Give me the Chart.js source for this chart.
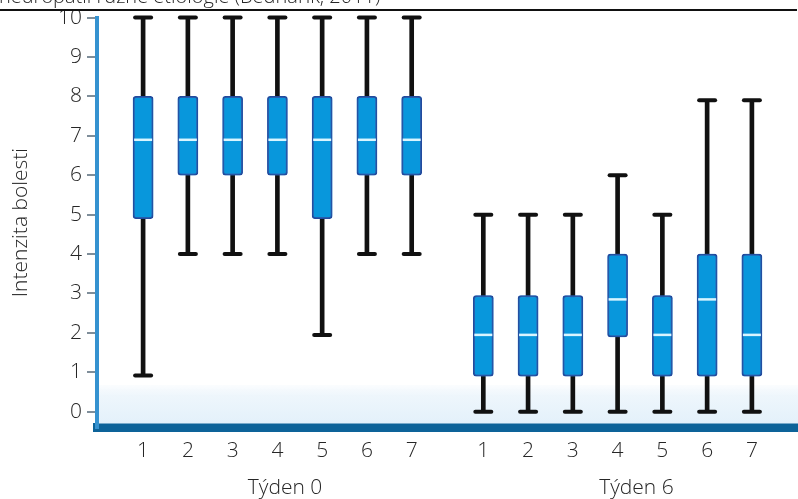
<!DOCTYPE html>
<html lang="cs">
<head>
    <meta charset="UTF-8">
    <title>Intenzita bolesti</title>
    <script src="https://cdn.jsdelivr.net/npm/chart.js@4.4.1/dist/chart.umd.min.js"></script>
    <style>
        html, body { margin: 0; padding: 0; background: #ffffff; }
        #wrap { width: 798px; height: 499px; position: relative; overflow: hidden; }
    </style>
</head>
<body>
<div id="wrap"><canvas id="boxChart" width="798" height="499"></canvas></div>

<script>
    // data
    const groupLabels = ["Týden 0", "Týden 6"];
    const groupLabelPos = [4.17, 12.02];
    const categories = ["1", "2", "3", "4", "5", "6", "7", "1", "2", "3", "4", "5", "6", "7"];
    const positions = [1, 2, 3, 4, 5, 6, 7, 8.6, 9.6, 10.6, 11.6, 12.6, 13.6, 14.6];
    const minValues = [0.92, 4, 4, 4, 1.95, 4, 4, 0, 0, 0, 0, 0, 0, 0];
    const q1Values = [4.9, 6, 6, 6, 4.9, 6, 6, 0.9, 0.9, 0.9, 1.9, 0.9, 0.9, 0.9];
    const medianValues = [6.9, 6.9, 6.9, 6.9, 6.9, 6.9, 6.9, 1.95, 1.95, 1.95, 2.85, 1.95, 2.85, 1.95];
    const q3Values = [8, 8, 8, 8, 8, 8, 8, 2.95, 2.95, 2.95, 4, 2.95, 4, 4];
    const maxValues = [10, 10, 10, 10, 10, 10, 10, 5, 5, 5, 6, 5, 7.9, 7.9];
    const yTicks = [0, 1, 2, 3, 4, 5, 6, 7, 8, 9, 10];
    const topCaption = "neuropatií různé etiologie (Bednarik, 2011)";

    const FONT = "'Open Sans', 'Noto Sans', sans-serif";
    const TEXT = "#262626";

    // caps, medians, floor band, group labels, cut-off caption
    const boxExtras = {
        id: "boxExtras",
        beforeDatasetsDraw(chart) {
            const { ctx, chartArea, scales } = chart;
            const yTop = scales.y.getPixelForValue(0.68);
            const g = ctx.createLinearGradient(0, yTop, 0, chartArea.bottom);
            g.addColorStop(0, "rgba(236,245,252,0.2)");
            g.addColorStop(0.25, "#eef6fc");
            g.addColorStop(1, "#e2f0fa");
            ctx.save();
            ctx.fillStyle = g;
            ctx.fillRect(chartArea.left + 2, yTop, chartArea.right - chartArea.left, chartArea.bottom - 4 - yTop);
            ctx.restore();
        },
        beforeDatasetDraw(chart, args) {
            if (args.index === 0) {
                chart.ctx.save();
                chart.ctx.shadowColor = "rgba(60,190,255,0.7)";
                chart.ctx.shadowBlur = 3;
            }
        },
        afterDatasetDraw(chart, args) {
            if (args.index === 0) chart.ctx.restore();
        },
        afterDatasetsDraw(chart) {
            const { ctx, scales } = chart;
            const x = scales.x, y = scales.y;
            ctx.save();
            positions.forEach((p, i) => {
                const px = x.getPixelForValue(p);
                // whisker caps
                ctx.lineCap = "round";
                ctx.strokeStyle = "#111111";
                ctx.lineWidth = 4;
                [minValues[i], maxValues[i]].forEach(v => {
                    const py = y.getPixelForValue(v);
                    ctx.beginPath();
                    ctx.moveTo(px - 8, py);
                    ctx.lineTo(px + 8, py);
                    ctx.stroke();
                });
                // median
                const pm = y.getPixelForValue(medianValues[i]);
                ctx.lineCap = "butt";
                ctx.strokeStyle = "#d9f5ff";
                ctx.lineWidth = 2.5;
                ctx.beginPath();
                ctx.moveTo(px - 9, pm);
                ctx.lineTo(px + 9, pm);
                ctx.stroke();
            });
            ctx.restore();
        },
        afterDraw(chart) {
            const { ctx, scales } = chart;
            ctx.save();
            ctx.fillStyle = TEXT;
            ctx.font = "300 21px " + FONT;
            ctx.textAlign = "center";
            ctx.textBaseline = "middle";
            groupLabels.forEach((t, i) => {
                ctx.fillText(t, scales.x.getPixelForValue(groupLabelPos[i]), 488);
            });
            // caption cut off by the top edge
            ctx.font = "300 20px " + FONT;
            ctx.textAlign = "left";
            ctx.textBaseline = "alphabetic";
            ctx.fillText(topCaption, -1, 3);
            ctx.fillStyle = "#111111";
            ctx.fillRect(0, 9, 797, 2);
            ctx.restore();
        }
    };

    const ctx = document.getElementById("boxChart").getContext("2d");
    new Chart(ctx, {
        type: "bar",
        data: {
            datasets: [
                {
                    label: "box",
                    data: positions.map((p, i) => ({ x: p, y: [q1Values[i], q3Values[i]] })),
                    backgroundColor: "#0897dc",
                    borderColor: "#213f93",
                    borderWidth: 2,
                    borderRadius: 3,
                    borderSkipped: false,
                    barThickness: 20,
                    grouped: false
                },
                {
                    label: "whisker",
                    data: positions.map((p, i) => ({ x: p, y: [minValues[i], maxValues[i]] })),
                    backgroundColor: "#111111",
                    borderWidth: 0,
                    barThickness: 4,
                    grouped: false
                }
            ]
        },
        options: {
            responsive: false,
            animation: false,
            devicePixelRatio: 1,
            layout: { padding: { top: 15, left: 0, right: 0, bottom: 0 } },
            plugins: { legend: { display: false }, tooltip: { enabled: false } },
            scales: {
                x: {
                    type: "linear",
                    offset: false,
                    min: -0.03,
                    max: 15.63,
                    afterBuildTicks: s => { s.ticks = positions.map(v => ({ value: v })); },
                    afterFit: s => { s.height = 71.5; },
                    ticks: {
                        callback: (v, i) => categories[i],
                        autoSkip: false,
                        maxRotation: 0,
                        padding: 11,
                        color: TEXT,
                        font: { family: FONT, size: 21, weight: "300" }
                    },
                    grid: { display: false, drawTicks: false },
                    border: { display: true, color: "#0d6399", width: 9 }
                },
                y: {
                    type: "linear",
                    min: -0.4,
                    max: 10,
                    afterBuildTicks: s => { s.ticks = yTicks.map(v => ({ value: v })); },
                    afterFit: s => { s.width = 97; },
                    ticks: {
                        padding: 5,
                        color: TEXT,
                        font: { family: FONT, size: 21, weight: "300" }
                    },
                    grid: { drawOnChartArea: false, drawTicks: true, tickLength: 10, color: "#7f8e9a", lineWidth: 2 },
                    border: { display: true, color: "#3592d0", width: 4 },
                    title: {
                        display: true,
                        text: "Intenzita bolesti",
                        color: TEXT,
                        padding: { top: 8, bottom: 0 },
                        font: { family: FONT, size: 21, weight: "300" }
                    }
                }
            }
        },
        plugins: [boxExtras]
    });
</script>
</body>
</html>
